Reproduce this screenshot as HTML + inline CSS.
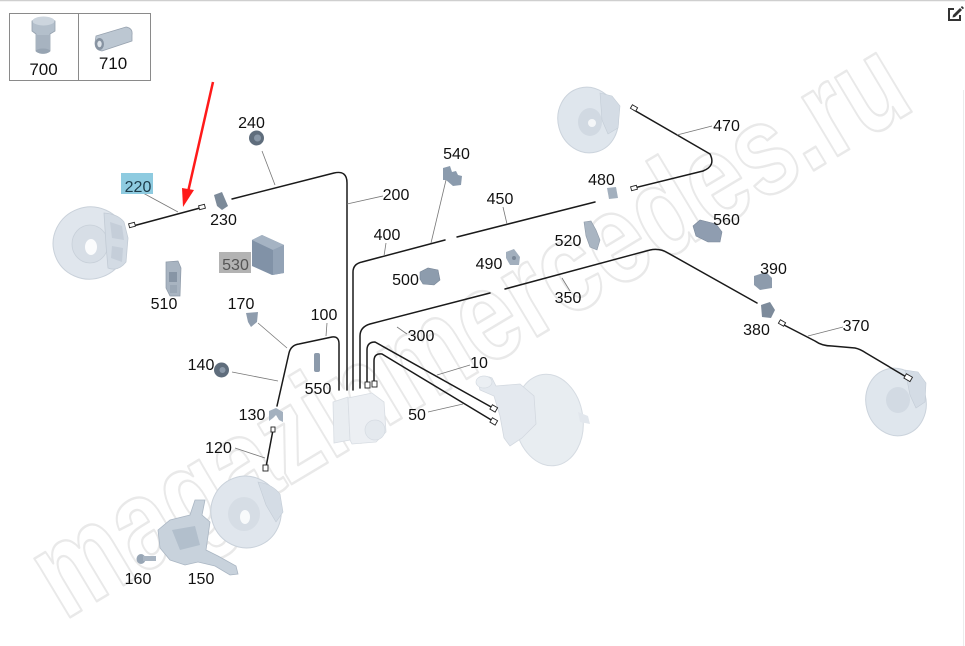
<!DOCTYPE html>
<html><head><meta charset="utf-8">
<style>
html,body{margin:0;padding:0;background:#fff;width:965px;height:646px;overflow:hidden;}
body{position:relative;}
svg{position:absolute;left:0;top:0;display:block;}
text{font-family:"Liberation Sans",Arial,sans-serif;}
</style></head>
<body>
<svg width="965" height="646" viewBox="0 0 965 646" xmlns="http://www.w3.org/2000/svg">
<rect x="0" y="0" width="965" height="646" fill="#fff"/>
<line x1="0" y1="0.5" x2="965" y2="0.5" stroke="#cfcfcf" stroke-width="1.5"/>
<line x1="963.5" y1="90" x2="963.5" y2="646" stroke="#ececec" stroke-width="1"/>

<!-- watermark (per-letter) -->
<g font-size="130" font-weight="bold" fill="none" stroke="#e9e9e9" stroke-width="2.5" stroke-linejoin="round">
<text transform="translate(64,621) rotate(-31) scale(0.77,1)">m</text>
<text transform="translate(140.3,575.2) rotate(-31) scale(0.77,1)">a</text>
<text transform="translate(187.9,546.5) rotate(-31) scale(0.77,1)">g</text>
<text transform="translate(240.4,515) rotate(-31) scale(0.77,1)">a</text>
<text transform="translate(288.1,486.3) rotate(-31) scale(0.77,1)">z</text>
<text transform="translate(331,460.6) rotate(-31) scale(0.77,1)">i</text>
<text transform="translate(354.8,446.3) rotate(-31) scale(0.77,1)">n</text>
<text transform="translate(407.2,414.7) rotate(-31) scale(0.77,1)">m</text>
<text transform="translate(483.5,368.9) rotate(-31) scale(0.77,1)">e</text>
<text transform="translate(531.2,340.3) rotate(-31) scale(0.77,1)">r</text>
<text transform="translate(564.6,320.2) rotate(-31) scale(0.77,1)">c</text>
<text transform="translate(612.2,291.6) rotate(-31) scale(0.77,1)">e</text>
<text transform="translate(660,262.9) rotate(-31) scale(0.77,1)">d</text>
<text transform="translate(712.4,231.3) rotate(-31) scale(0.77,1)">e</text>
<text transform="translate(760.1,202.7) rotate(-31) scale(0.77,1)">s</text>
<text transform="translate(807.8,174) rotate(-31) scale(0.77,1)">.</text>
<text transform="translate(831.6,159.7) rotate(-31) scale(0.77,1)">r</text>
<text transform="translate(865,139.7) rotate(-31) scale(0.77,1)">u</text>
</g>

<!-- top-left parts box -->
<rect x="9.5" y="13.5" width="141" height="67" fill="none" stroke="#8a8a8a" stroke-width="1"/>
<line x1="78.5" y1="13.5" x2="78.5" y2="80.5" stroke="#8a8a8a" stroke-width="1"/>
<!-- 700 icon -->
<g>
<path d="M32,21 Q43,15 55,21 L55,31 L50,34 L50,51 Q43,56 36,51 L36,34 L32,31 Z" fill="#b3bfcb" stroke="#96a2af" stroke-width="0.8"/>
<ellipse cx="43.5" cy="21" rx="11" ry="4.5" fill="#ccd5de"/>
<rect x="36" y="35" width="14" height="15" fill="#a7b3c0"/>
<ellipse cx="43" cy="51" rx="7" ry="2.5" fill="#97a4b2"/>
</g>
<text x="43.5" y="75" font-size="17" text-anchor="middle" fill="#111">700</text>
<!-- 710 icon -->
<g>
<path d="M96,36 L126,27 Q133,28 132,35 L132,41 L102,51 Q95,50 95,43 Z" fill="#bcc7d2" stroke="#97a2af" stroke-width="0.8"/>
<ellipse cx="99.5" cy="44" rx="4.5" ry="6" fill="#8793a1"/>
<ellipse cx="99.5" cy="44" rx="2.2" ry="3.2" fill="#dde3e9"/>
</g>
<text x="113" y="69" font-size="17" text-anchor="middle" fill="#111">710</text>

<!-- edit icon -->
<g transform="translate(946,5)">
<path d="M2,3 L8,3 L8,5 L4,5 L4,14 L13,14 L13,10 L15,10 L15,16 L2,16 Z" fill="#333"/>
<path d="M7,10 L14,3 L16,5 L9,12 L6.5,12.5 Z" fill="#333"/>
<path d="M14.8,2.2 L16,1 L18,3 L16.8,4.2 Z" fill="#333"/>
</g>

<!-- ============ PARTS ============ -->
<!-- FL disc -->
<g>
<ellipse cx="90" cy="243" rx="37" ry="36" fill="#e0e6ed" stroke="#c9d1da" stroke-width="1" transform="rotate(-20 90 243)"/>
<ellipse cx="90" cy="244" rx="18" ry="19" fill="#d7dee6" stroke="#c8d0d9" stroke-width="0.8"/>
<ellipse cx="91" cy="247" rx="6" ry="8" fill="#fbfcfd"/>
<path d="M104,213 Q118,214 124,222 L128,238 L126,262 Q118,272 108,268 L106,245 Z" fill="#d3dbe4" stroke="#c2cbd5" stroke-width="0.8"/>
<path d="M110,222 L122,226 L124,240 L112,238 Z" fill="#c5ced9"/>
<path d="M112,246 L123,248 L122,262 L111,258 Z" fill="#c5ced9"/>
</g>
<!-- 510 -->
<g>
<path d="M166,262 L178,261 L181,268 L180,296 L170,296 L166,288 Z" fill="#a8b4c1" stroke="#8d99a7" stroke-width="0.7"/>
<rect x="169" y="272" width="8" height="10" fill="#8795a5"/>
<rect x="170" y="285" width="7" height="8" fill="#9aa7b5"/>
</g>
<!-- 240 -->
<circle cx="256.5" cy="138" r="7.5" fill="#5f6d7c"/>
<circle cx="257.5" cy="138" r="3.5" fill="#8897a7"/>
<!-- 230 -->
<path d="M214,195 L222,192 L228,206 L222,210 L217,206 Z" fill="#7c8a99"/>
<!-- 530 -->
<g>
<path d="M252,240 L262,235 L284,245 L284,273 L272,275 L252,266 Z" fill="#8192a7"/>
<path d="M252,240 L262,235 L284,245 L273,250 Z" fill="#a5b3c3"/>
<path d="M273,250 L284,245 L284,273 L273,275 Z" fill="#93a3b6"/>
</g>
<!-- 540 -->
<path d="M443,168 L450,166 L452,172 L456,171 L458,175 L462,176 L461,185 L453,186 L446,180 L443,180 Z" fill="#8b9bad"/>
<!-- 480 -->
<path d="M607,188 L616,187 L618,198 L609,199 Z" fill="#a3b0be"/>
<!-- 470 disc (top right) -->
<g>
<ellipse cx="588" cy="120" rx="30" ry="33" fill="#dfe6ed" stroke="#cbd3dc" stroke-width="1" transform="rotate(-15 588 120)"/>
<ellipse cx="590" cy="122" rx="12" ry="14" fill="#d1d9e2"/>
<circle cx="592" cy="123" r="4" fill="#f4f6f8"/>
<path d="M600,93 L612,96 L620,106 L618,128 L608,134 L602,120 Z" fill="#d4dce5" stroke="#c3ccd6" stroke-width="0.6"/>
</g>
<!-- 560 -->
<path d="M693,226 L700,220 L716,224 L722,232 L720,242 L708,242 L696,236 Z" fill="#8f9db0" stroke="#7a889a" stroke-width="0.6"/>
<!-- 520 -->
<path d="M584,222 L591,221 L596,230 L600,240 L597,250 L590,247 L586,236 Z" fill="#a9b5c2" stroke="#8d99a7" stroke-width="0.6"/>
<!-- 490 -->
<path d="M506,252 L514,249 L520,257 L519,265 L510,265 L506,258 Z" fill="#a2afbd"/>
<circle cx="514" cy="258" r="2" fill="#7a8797"/>
<!-- 500 -->
<path d="M420,272 L428,268 L438,270 L440,280 L434,285 L423,284 L420,279 Z" fill="#8d9cad" stroke="#788697" stroke-width="0.6"/>
<!-- 390 -->
<path d="M754,276 L766,272 L772,278 L772,288 L760,290 L754,285 Z" fill="#8d9bac"/>
<!-- 380 -->
<path d="M761,305 L770,302 L775,310 L771,318 L762,317 Z" fill="#7d8b9b"/>
<!-- 370 disc (bottom right) -->
<g>
<ellipse cx="896" cy="402" rx="30" ry="34" fill="#dfe6ed" stroke="#cbd3dc" stroke-width="1" transform="rotate(-15 896 402)"/>
<ellipse cx="898" cy="400" rx="12" ry="13" fill="#d2dae3"/>
<path d="M905,370 L918,372 L926,383 L925,402 L916,408 L910,395 Z" fill="#d4dce5" stroke="#c3ccd6" stroke-width="0.6"/>
</g>
<!-- 170 -->
<path d="M246,313 L258,312 L257,322 L251,327 L248,322 Z" fill="#8e9cad"/>
<!-- 550 -->
<rect x="314" y="353" width="6" height="19" rx="2" fill="#8c9aab"/>
<!-- 140 -->
<circle cx="221.5" cy="370" r="7.5" fill="#5f6d7c"/>
<circle cx="222.5" cy="370" r="3" fill="#8a98a8"/>
<!-- 130 -->
<path d="M269,411 L276,408 L283,412 L283,422 L279,420 L276,415 L273,418 L269,421 Z" fill="#a4b1bf"/>
<!-- ABS unit -->
<g>
<path d="M333,402 L348,397 L350,440 L334,443 Z" fill="#e9edf1" stroke="#d8dde3" stroke-width="0.8"/>
<path d="M348,398 L372,393 L384,402 L386,432 L376,442 L352,444 L350,440 Z" fill="#eceff3" stroke="#d8dde3" stroke-width="0.8"/>
<ellipse cx="375" cy="430" rx="10" ry="10" fill="#e4e9ee" stroke="#d5dbe2" stroke-width="0.7"/>
</g>
<!-- booster + master cylinder -->
<g>
<ellipse cx="549" cy="420" rx="34" ry="46" fill="#e8edf1" stroke="#d5dbe2" stroke-width="1" transform="rotate(-8 549 420)"/>
<path d="M478,382 Q484,374 492,378 L496,386 L520,384 L534,396 L536,424 L522,438 L510,446 L504,438 L500,416 L494,396 L480,390 Z" fill="#e4e9ef" stroke="#d3d9e0" stroke-width="0.8"/>
<ellipse cx="484" cy="382" rx="8" ry="6" fill="#ebeff3" stroke="#d5dbe2" stroke-width="0.7"/>
<path d="M578,412 L588,416 L590,424 L580,422 Z" fill="#e2e7ed"/>
</g>
<!-- 150 knuckle -->
<g>
<path d="M158,530 L170,520 L190,515 L195,500 L205,500 L202,515 L210,522 L206,550 L218,556 L236,566 L238,574 L230,575 L215,566 L198,562 L185,565 L170,560 L160,548 Z" fill="#c8d2dc" stroke="#aab6c3" stroke-width="0.8"/>
<path d="M172,530 L195,526 L200,545 L180,550 Z" fill="#b2bfcc"/>
</g>
<!-- 160 bolt -->
<g>
<ellipse cx="141" cy="559" rx="4.5" ry="5" fill="#98a6b5"/>
<rect x="143" y="556" width="13" height="5" fill="#a9b5c2"/>
</g>
<!-- FL lower disc (bottom left) -->
<g>
<ellipse cx="246" cy="512" rx="35" ry="36" fill="#e0e6ed" stroke="#c9d1da" stroke-width="1" transform="rotate(-20 246 512)"/>
<ellipse cx="244" cy="514" rx="16" ry="17" fill="#d6dde5"/>
<ellipse cx="245" cy="517" rx="5" ry="7" fill="#f8fafb"/>
<path d="M258,482 Q272,484 280,494 L283,512 L276,522 L266,505 Z" fill="#d4dce5" stroke="#c3ccd6" stroke-width="0.6"/>
</g>

<!-- ============ BRAKE LINES ============ -->
<g fill="none" stroke="#1a1a1a" stroke-width="1.5" stroke-linecap="round" stroke-linejoin="round">
<path d="M133,226 L200,208"/>
<path d="M232,199 L334,173 Q347,170 347,183 L347,390"/>
<path d="M277,406 L289,353 Q291,345 299,344 L332,337 Q339,336 339,344 L339,390"/>
<path d="M353,390 L353,272 Q353,264 362,262 L445,240"/>
<path d="M457,237 L595,202"/>
<path d="M360,388 L360,336 Q360,327 370,324 L490,293"/>
<path d="M505,289 L650,250 Q660,248 668,253 L757,303"/>
<path d="M634,188 L703,171 Q716,166 710,154 L634,110"/>
<path d="M782,324 L815,341 Q822,346 832,346 L855,348 Q860,349 866,353 L908,378"/>
<path d="M367,384 L367,350 Q367,342 375,342 L493,408"/>
<path d="M374,384 L374,361 Q374,353 382,354 L493,421"/>
<path d="M273,430 L266,467"/>
</g>
<!-- fittings -->
<g fill="#fff" stroke="#222" stroke-width="0.9">
<rect x="129" y="223" width="6" height="4" transform="rotate(-15 132 225)"/>
<rect x="199" y="205" width="6" height="4" transform="rotate(-15 202 207)"/>
<rect x="631" y="186" width="6" height="4" transform="rotate(-15 634 188)"/>
<rect x="631" y="106" width="6" height="4" transform="rotate(30 634 108)"/>
<rect x="779" y="321" width="6" height="4" transform="rotate(30 782 323)"/>
<rect x="905" y="375" width="7" height="5" transform="rotate(30 908 377)"/>
<rect x="365" y="382" width="5" height="6"/>
<rect x="372" y="381" width="5" height="6"/>
<rect x="491" y="406" width="6" height="5" transform="rotate(30 494 408)"/>
<rect x="491" y="419" width="6" height="5" transform="rotate(30 494 421)"/>
<rect x="271" y="427" width="4" height="5"/>
<rect x="263" y="465" width="5" height="6"/>
</g>

<!-- ============ LEADER LINES ============ -->
<g stroke="#777" stroke-width="0.8" fill="none">
<line x1="143" y1="193" x2="178" y2="212"/>
<line x1="262" y1="151" x2="275" y2="185"/>
<line x1="347" y1="204" x2="383" y2="196"/>
<line x1="386" y1="243" x2="384" y2="256"/>
<line x1="446" y1="180" x2="431" y2="243"/>
<line x1="503" y1="207" x2="507" y2="224"/>
<line x1="712" y1="126" x2="677" y2="135"/>
<line x1="562" y1="278" x2="570" y2="291"/>
<line x1="397" y1="327" x2="407" y2="334"/>
<line x1="470" y1="365" x2="437" y2="375"/>
<line x1="428" y1="412" x2="463" y2="404"/>
<line x1="258" y1="323" x2="287" y2="348"/>
<line x1="232" y1="372" x2="278" y2="381"/>
<line x1="327" y1="323" x2="326" y2="336"/>
<line x1="235" y1="448" x2="265" y2="458"/>
<line x1="843" y1="327" x2="808" y2="336"/>
</g>

<!-- red arrow -->
<line x1="213" y1="82" x2="188" y2="192" stroke="#ff1a1a" stroke-width="2.5"/>
<path d="M182,188 L194,190 L183,207 Z" fill="#ff1a1a"/>

<!-- label boxes -->
<rect x="121" y="173" width="32" height="21" fill="#8ecbe0"/>
<rect x="219" y="252" width="32" height="21" fill="#b3b3b3"/>

<!-- labels -->
<g font-size="16" text-anchor="middle" fill="#111">
<text x="138" y="192" fill="#1d3c4a">220</text>
<text x="235.5" y="270" fill="#555">530</text>
<text x="251.5" y="128">240</text>
<text x="223.5" y="225">230</text>
<text x="164" y="309">510</text>
<text x="241" y="309">170</text>
<text x="396" y="200">200</text>
<text x="387" y="240">400</text>
<text x="405.5" y="285">500</text>
<text x="456.5" y="159">540</text>
<text x="500" y="204">450</text>
<text x="601.5" y="185">480</text>
<text x="726.5" y="131">470</text>
<text x="726.5" y="225">560</text>
<text x="568" y="246">520</text>
<text x="489" y="269">490</text>
<text x="568" y="303">350</text>
<text x="773.5" y="274">390</text>
<text x="756.5" y="335">380</text>
<text x="856" y="331">370</text>
<text x="324" y="320">100</text>
<text x="421" y="341">300</text>
<text x="479" y="368">10</text>
<text x="318" y="394">550</text>
<text x="417" y="420">50</text>
<text x="201" y="370">140</text>
<text x="252" y="420">130</text>
<text x="218.5" y="453">120</text>
<text x="138" y="584">160</text>
<text x="201" y="584">150</text>
</g>
</svg>
</body></html>
